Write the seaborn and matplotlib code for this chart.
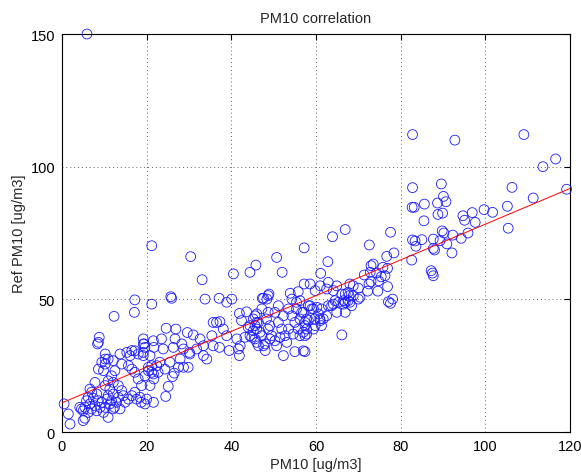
import matplotlib
matplotlib.use("Agg")
import matplotlib.pyplot as plt
import seaborn as sns
import pandas as pd

# points, grouped by region (PM10, Ref PM10)
low_pts = [
    (0.5, 10.6), (1.5, 6.8), (1.9, 3.0), (5.0, 4.3), (5.4, 5.2), (4.6, 8.7), (4.2, 9.3),
    (5.0, 8.0), (5.4, 9.3), (6.2, 7.4), (7.0, 8.7), (5.8, 11.8), (6.6, 10.6), (6.2, 13.1),
    (7.0, 15.0), (7.4, 12.7), (7.8, 9.9), (8.2, 8.0), (9.0, 9.3), (9.4, 11.2), (10.2, 9.3),
    (9.8, 7.4), (8.6, 11.8), (10.6, 12.4), (10.9, 13.7), (11.3, 10.6), (11.7, 11.8),
    (12.4, 9.3), (12.9, 11.2), (13.3, 13.1), (12.1, 14.3), (11.3, 16.2), (10.2, 17.5),
    (10.9, 19.3), (11.7, 21.2), (12.1, 18.7), (13.3, 17.5), (14.1, 15.6), (14.5, 13.7),
    (14.9, 11.2), (15.7, 12.4), (16.5, 13.7), (17.2, 15.0), (17.6, 12.4), (18.4, 13.1),
    (18.7, 11.2), (18.8, 17.5), (18.0, 20.0), (17.2, 22.5), (16.5, 23.7), (15.7, 25.0),
    (14.1, 25.6), (12.5, 23.1), (10.2, 25.6), (9.8, 23.1), (9.4, 26.3), (8.6, 23.7),
    (10.9, 27.5), (13.7, 29.4), (15.3, 30.0), (16.1, 28.8), (16.5, 30.7), (18.0, 29.4),
    (19.2, 30.0), (19.6, 31.9), (20.8, 28.8), (21.2, 25.0), (20.4, 23.1), (19.6, 21.2),
    (21.6, 21.9), (20.8, 17.5), (20.0, 12.4), (21.6, 11.2), (8.6, 33.8), (19.2, 33.2),
    (12.1, 8.7), (13.7, 8.7), (10.9, 5.5), (6.6, 16.2), (7.8, 18.7), (8.2, 14.3),
    (8.8, 35.7), (8.4, 33.2), (12.3, 43.6), (17.2, 49.8), (17.1, 45.1), (21.2, 70.2),
    (21.2, 48.2), (19.4, 33.2), (21.6, 34.4), (10.2, 29.4), (10.2, 27.5), (12.1, 26.9),
    (19.6, 10.6), (20.4, 24.4), (19.2, 35.1), (17.2, 30.6), (19.2, 28.8), (5.9, 150.0),
]

mid_pts = [
    (26.7, 35.1), (23.5, 35.1), (21.7, 31.9), (23.9, 31.3), (26.3, 31.9), (28.3, 33.2),
    (28.7, 31.3), (30.1, 30.0), (31.8, 31.3), (33.4, 32.5), (35.4, 36.3), (35.7, 32.5),
    (37.2, 31.9), (38.9, 36.3), (41.3, 35.1), (43.2, 35.7), (44.8, 35.7), (46.0, 33.8),
    (41.7, 31.3), (39.5, 30.7), (41.9, 28.8), (33.4, 28.8), (34.2, 27.5), (30.2, 29.4),
    (27.9, 27.5), (25.5, 26.3), (23.1, 26.3), (22.4, 25.0), (24.3, 23.7), (28.7, 24.4),
    (29.8, 24.4), (27.5, 24.4), (26.5, 22.2), (26.1, 20.9), (25.1, 17.2), (24.5, 13.4),
    (21.7, 20.0), (21.2, 22.5), (22.7, 22.5),
    (30.4, 66.1), (40.5, 59.6), (44.4, 60.2), (45.8, 62.9), (33.1, 57.4), (25.7, 51.0),
    (25.9, 50.4), (33.8, 50.1), (37.1, 50.4), (38.9, 48.9), (40.1, 50.1), (24.6, 39.1),
    (26.9, 38.8), (29.6, 37.5), (31.0, 36.6), (36.5, 41.3), (37.3, 41.6), (41.9, 44.7),
    (43.6, 45.3), (42.4, 42.0), (44.4, 40.1), (46.0, 41.3), (45.2, 38.2), (44.0, 39.4),
    (46.8, 37.6), (42.1, 32.5), (32.6, 35.1), (44.4, 36.3), (47.6, 32.5), (49.1, 35.1),
    (50.7, 32.5), (45.2, 42.6), (38.1, 38.8), (35.7, 41.3), (46.0, 44.5), (47.6, 50.4),
    (48.7, 51.4),
]

dense_pts = [
    (63.9, 73.6), (57.2, 69.4), (50.7, 65.8), (62.8, 64.2), (52.0, 60.2), (61.1, 59.8),
    (48.9, 52.0), (47.3, 50.4), (48.4, 50.1), (53.9, 52.3), (55.8, 52.9), (54.3, 50.1),
    (55.4, 48.9), (66.1, 36.6), (55.0, 30.3), (57.0, 30.6), (57.4, 30.3), (52.3, 28.8),
    (45.6, 43.8), (46.4, 41.3), (46.0, 38.8), (47.2, 36.3), (45.6, 35.1), (46.4, 32.5),
    (48.0, 33.2), (48.7, 38.8), (49.5, 36.3), (48.3, 42.6), (50.3, 45.1), (51.1, 41.3),
    (51.9, 38.8), (51.5, 35.7), (52.7, 36.3), (53.1, 33.8), (53.5, 38.8), (54.3, 43.8),
    (55.0, 41.3), (54.6, 36.9), (55.8, 38.8), (56.6, 45.1), (56.2, 36.3), (57.4, 41.3),
    (57.8, 38.8), (57.4, 36.3), (58.2, 47.6), (59.0, 46.4), (60.2, 47.0), (61.3, 46.4),
    (62.5, 43.8), (62.9, 47.6), (64.1, 48.2), (65.3, 48.9), (66.5, 48.2), (67.6, 49.5),
    (68.8, 51.4), (68.4, 47.6), (66.9, 45.1), (64.9, 45.1), (60.9, 42.6), (59.7, 42.6),
    (61.3, 40.1), (59.4, 38.8), (58.2, 42.0), (57.0, 37.6), (50.3, 34.4), (48.0, 30.7),
    (49.1, 40.1), (52.3, 43.8), (55.4, 46.4), (53.5, 46.4), (51.1, 47.6), (48.7, 45.1),
    (47.2, 46.4), (45.6, 40.1), (56.2, 49.5), (57.0, 45.1), (57.8, 42.6), (59.8, 40.1),
    (61.0, 42.0), (61.7, 42.6), (60.6, 44.5), (59.4, 46.4), (58.6, 47.6), (57.4, 40.1),
    (57.8, 36.9), (56.2, 42.6), (63.7, 47.6), (66.5, 49.5), (67.6, 52.6), (68.8, 55.1),
    (68.0, 48.9), (66.1, 52.0), (64.5, 49.5), (64.1, 53.3), (62.5, 53.9), (61.0, 55.1),
    (58.6, 55.8), (62.9, 56.4), (64.9, 55.1), (57.2, 55.8), (59.8, 53.3), (72.8, 60.2),
    (70.0, 50.1),
]

high_pts = [
    (82.8, 112.1), (109.1, 112.1), (92.8, 110.0), (116.6, 102.9), (113.6, 100.0),
    (119.2, 91.5), (106.3, 92.2), (111.3, 88.2), (105.2, 85.1), (99.7, 83.8), (101.7, 82.8),
    (105.4, 76.8), (94.7, 81.5), (96.9, 82.7), (95.1, 79.8), (97.6, 79.0), (90.2, 75.0),
    (92.3, 74.2), (95.9, 75.0), (94.3, 73.0), (90.9, 70.9), (92.1, 67.5), (89.6, 93.5),
    (90.1, 88.8), (90.7, 86.8), (89.9, 82.5), (89.3, 72.1),
    (82.8, 92.1), (82.7, 84.7), (83.2, 84.7), (85.6, 85.9), (88.7, 86.3), (88.8, 82.0),
    (85.5, 79.6), (89.8, 75.8), (82.8, 72.4), (83.4, 72.0), (85.0, 72.5), (83.6, 70.0),
    (87.7, 72.7), (87.7, 69.2), (88.0, 68.6), (82.6, 64.8), (87.2, 60.8), (87.5, 59.9),
    (87.7, 58.9), (66.9, 76.3), (77.6, 75.3), (72.6, 70.5), (76.7, 66.2), (78.4, 67.5),
    (73.5, 63.3), (73.0, 62.7), (75.8, 62.1), (76.9, 61.7), (76.3, 58.9), (75.4, 58.5),
    (71.4, 59.2), (74.3, 59.9), (73.0, 56.7), (74.8, 57.0), (72.5, 55.8), (68.0, 55.8),
    (70.0, 54.2), (72.2, 53.1), (74.6, 53.1), (76.9, 54.8), (66.9, 52.0), (67.8, 51.4),
    (70.4, 50.8), (66.9, 48.9), (77.1, 49.1), (78.1, 50.1), (77.6, 48.5),
]

# fitted line end points
fit_x = [0, 120]
fit_y = [11.0, 91.8]

all_pts = low_pts + mid_pts + dense_pts + high_pts
df = pd.DataFrame(all_pts, columns=['pm10', 'ref_pm10'])

sns.set_style('white')
plt.rcParams['font.family'] = ['Liberation Sans', 'DejaVu Sans']

fig = plt.figure(figsize=(5.81, 4.77), dpi=100)
ax = fig.add_axes([0.1067, 0.0922, 0.8744, 0.8344])

sns.scatterplot(data=df, x='pm10', y='ref_pm10', ax=ax, s=50,
                facecolors='none', edgecolors='#1a1aff', linewidths=0.6,
                clip_on=False, zorder=3)
sns.lineplot(x=fit_x, y=fit_y, ax=ax, color='red', linewidth=0.7, zorder=4)

ax.set_xlim(0, 120)
ax.set_ylim(0, 150)
ax.set_xticks(range(0, 121, 20))
ax.set_yticks([0, 50, 100, 150])
ax.grid(True, linestyle=(0, (1, 3)), color='#606060', linewidth=0.7)
ax.tick_params(direction='in', top=True, right=True, length=4, labelsize=10.5,
               colors='black', pad=5)
for sp in ax.spines.values():
    sp.set_color('black')
    sp.set_linewidth(0.8)

ax.set_title('PM10 correlation', fontsize=10.5, pad=9)
ax.set_xlabel('PM10 [ug/m3]', fontsize=10.5, labelpad=3)
ax.set_ylabel('Ref PM10 [ug/m3]', fontsize=10.5, labelpad=3)

fig.savefig('out.png', dpi=100)
